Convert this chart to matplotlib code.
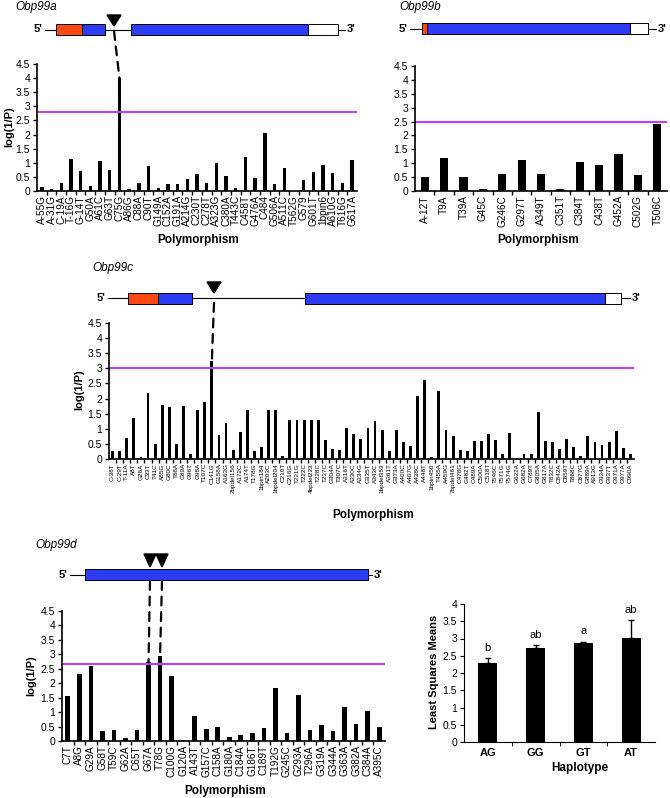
import matplotlib
matplotlib.use("Agg")
import matplotlib.pyplot as plt
from matplotlib.patches import Rectangle, Polygon, ConnectionPatch
import numpy as np

plt.rcParams['font.family'] = ['Liberation Sans', 'DejaVu Sans']

# ---- data ----
a_labels = ['A-55G', 'A-31G', 'C-19A', 'T-16G', 'G-14T', 'G50A', 'A61C', 'G63T', 'C75G',
            'A86G', 'C88A', 'C90T', 'G149A', 'C152A', 'G191A', 'A214G', 'C230T', 'C278T',
            'A323G', 'C380A', 'T443C', 'C458T', 'G476A', 'C484', 'G506A', 'A511C', 'T562G',
            'G579', 'G601T', '1bpin6', 'A610G', 'T616G', 'G617A']
a_vals = [0.13, 0.07, 0.3, 1.15, 0.7, 0.19, 1.07, 0.75, 4.0,
          0.06, 0.27, 0.9, 0.1, 0.25, 0.24, 0.43, 0.62, 0.3,
          1.0, 0.54, 0.1, 1.2, 0.45, 2.05, 0.25, 0.82, 0.0,
          0.4, 0.68, 0.92, 0.65, 0.3, 1.1]
a_thr = 2.8

b_labels = ['A-12T', 'T9A', 'T39A', 'G45C', 'G246C', 'G297T', 'A349T', 'C351T', 'C384T',
            'C438T', 'G452A', 'C502G', 'T506C']
b_vals = [0.5, 1.2, 0.5, 0.07, 0.62, 1.13, 0.63, 0.07, 1.05, 0.93, 1.35, 0.58, 2.42]
b_thr = 2.47

c_labels = ['C-38T', 'C-29T', 'T-11A', 'A8T', 'G26A', 'C33T', 'T41C', 'A85G', 'G80C', 'T88A',
            'G89A', 'G96T', 'G98A', 'T107C', 'C141G', 'G158A', 'A163G', '2bpdel156', 'A172C',
            'A174T', 'T178G', '1bpin184', 'A203C', '1bpdel204', 'C210T', 'C216G', 'T221G',
            'T222C', '4bpdel223', 'T228C', 'T237C', 'G304A', 'T307C', 'A316T', 'A330C', 'A334G',
            'G335T', 'A343C', '1bpdel353', 'A361T', 'G373A', 'A400C', 'A407G', 'A438C', 'A448T',
            '1bpin450', 'T455A', 'A459G', '7bpdel461', 'C478G', 'G482T', 'C489A', 'C500A',
            'C518T', 'T546C', 'T571G', 'T574G', 'G622A', 'G682A', 'C789T', 'G805A', 'G817A',
            'T832C', 'C842A', 'C859T', 'T868C', 'C877G', 'G889A', 'A913G', 'G934A', 'G937T',
            'G971A', 'G977A', 'C990A']
c_vals = [0.28, 0.28, 0.7, 1.37, 0.07, 2.2, 0.5, 1.8, 1.72, 0.5,
          1.76, 0.15, 1.63, 1.87, 3.25, 0.78, 1.2, 0.29, 0.9,
          1.62, 0.28, 0.41, 1.62, 1.62, 0.1, 1.3, 1.3,
          1.3, 1.3, 1.3, 0.62, 0.34, 0.3, 1.04, 0.83, 0.65,
          1.04, 1.26, 0.95, 0.28, 0.95, 0.57, 0.42, 2.07, 2.6,
          0.05, 2.25, 0.95, 0.77, 0.3, 0.28, 0.6, 0.6,
          0.84, 0.63, 0.15, 0.85, 0.04, 0.15, 0.15, 1.55, 0.6,
          0.55, 0.32, 0.65, 0.4, 0.1, 0.75, 0.57, 0.45, 0.55,
          0.93, 0.37, 0.18]
c_thr = 3.0

d_labels = ['C7T', 'A8G', 'G29A', 'G58T', 'T59C', 'G62A', 'C65T', 'G67A', 'T78G', 'C100G',
            'G120A', 'A143T', 'G157C', 'C158A', 'G180A', 'C184A', 'G186T', 'C189T', 'T192G',
            'G245C', 'G293A', 'T296A', 'G319A', 'G344A', 'G363A', 'G382A', 'C384A', 'A395C']
d_vals = [1.55, 2.33, 2.6, 0.35, 0.37, 0.1, 0.37, 2.73, 2.95, 2.25,
          0.02, 0.88, 0.42, 0.48, 0.15, 0.22, 0.28, 0.45, 1.85,
          0.28, 1.58, 0.38, 0.56, 0.35, 1.18, 0.6, 1.04, 0.5]
d_thr = 2.65

hap_labels = ['AG', 'GG', 'GT', 'AT']
hap_means = [2.28, 2.73, 2.88, 3.02]
hap_err = [0.15, 0.07, 0.03, 0.52]
hap_letters = ['b', 'ab', 'a', 'ab']

MAG = '#c63cf2'
BLUE = '#2b3cf2'
ORANGE = '#ff4814'

W, H = 670, 798
fig = plt.figure(figsize=(6.7, 7.98), dpi=100)


def box(l, t, r, b):
    return [l / W, 1 - b / H, (r - l) / W, (b - t) / H]


# overlay in pixel coordinates for gene diagrams and labels
ov = fig.add_axes([0, 0, 1, 1])
ov.set_xlim(0, W)
ov.set_ylim(H, 0)
ov.axis('off')


def bar_panel(rect, labels, vals, thr, lsize, width):
    ax = fig.add_axes(box(*rect))
    x = np.arange(len(vals))
    ax.bar(x, vals, width=width, color='black')
    ax.axhline(thr, color=MAG, lw=1.5)
    ax.set_xlim(-0.5, len(vals) - 0.5)
    ax.set_ylim(0, 4.5)
    yt = np.arange(0, 4.51, 0.5)
    ax.set_yticks(yt)
    ax.set_yticklabels([f'{v:g}' for v in yt], fontsize=7.5)
    ax.set_xticks(x)
    ax.set_xticklabels(labels, rotation=90, fontsize=lsize)
    ax.set_xticks(x[:-1] + 0.5, minor=True)
    ax.tick_params(axis='x', which='major', length=0, pad=3)
    ax.tick_params(axis='x', which='minor', length=3, width=1, direction='out')
    ax.tick_params(axis='y', length=3, width=1, pad=2)
    for s in ('top', 'right'):
        ax.spines[s].set_visible(False)
    for s in ('left', 'bottom'):
        ax.spines[s].set_linewidth(1.2)
    ax.patch.set_alpha(0)
    return ax


def gene(y, x0, x1, boxes, h=11):
    ov.plot([x0, x1], [y, y], color='black', lw=0.8, zorder=1)
    for l, r, c in boxes:
        ov.add_patch(Rectangle((l, y - h / 2), r - l, h, facecolor=c,
                               edgecolor='black', lw=0.7, zorder=2))
    ov.text(x0 - 3, y, "5'", ha='right', va='center', fontweight='bold', fontsize=8)
    ov.text(x1 + 2, y, "3'", ha='left', va='center', fontweight='bold', fontsize=8)


def arrow(x, top, tip, hw=7):
    ov.add_patch(Polygon([(x - hw, top), (x + hw, top), (x, tip)], closed=True,
                         color='black', zorder=3))


def connect(xy, ax, idx, val):
    con = ConnectionPatch(xyA=xy, coordsA=ov.transData, xyB=(idx, val), coordsB=ax.transData,
                          linestyle=(0, (4, 3)), lw=1.6, color='black')
    fig.add_artist(con)


# ---- Obp99a ----
axA = bar_panel((37, 64, 357, 191), a_labels, a_vals, a_thr, 7.2, 0.35)
ov.text(15, 7, 'Obp99a', style='italic', fontsize=8.5, va='center')
gene(29.5, 45, 345, [(56, 82, ORANGE), (82, 105, BLUE), (131, 308, BLUE), (308, 338, 'white')])
arrow(114, 15, 26)
connect((114, 31), axA, 8, a_vals[8])
ov.text(9, 127, 'log(1/P)', rotation=90, ha='center', va='center', fontweight='bold', fontsize=8)
ov.text(198, 240, 'Polymorphism', ha='center', va='center', fontweight='bold', fontsize=8.5)

# ---- Obp99b ----
axB = bar_panel((415, 66, 667, 191), b_labels, b_vals, b_thr, 7.2, 0.42)
ov.text(399, 7, 'Obp99b', style='italic', fontsize=8.5, va='center')
gene(28.5, 410, 656, [(422, 427, ORANGE), (427, 630, BLUE), (630, 648, 'white')])
ov.text(538, 240, 'Polymorphism', ha='center', va='center', fontweight='bold', fontsize=8.5)

# ---- Obp99c ----
axC = bar_panel((109, 323, 634, 459), c_labels, c_vals, c_thr, 4.6, 0.4)
ov.text(92, 268, 'Obp99c', style='italic', fontsize=8.5, va='center')
gene(298, 108, 630, [(128, 158, ORANGE), (158, 192, BLUE), (305, 605, BLUE), (605, 621, 'white')])
arrow(214, 282, 293)
connect((214, 303), axC, 14, c_vals[14])
ov.text(79, 390, 'log(1/P)', rotation=90, ha='center', va='center', fontweight='bold', fontsize=8)
ov.text(373, 515, 'Polymorphism', ha='center', va='center', fontweight='bold', fontsize=8.5)

# ---- Obp99d ----
axD = bar_panel((62, 611, 385, 741), d_labels, d_vals, d_thr, 7.2, 0.4)
ov.text(35, 545, 'Obp99d', style='italic', fontsize=8.5, va='center')
gene(574.5, 70, 372, [(85, 368, BLUE)])
arrow(150, 554, 567, hw=6)
arrow(162, 554, 567, hw=6)
connect((150, 581), axD, 7, d_vals[7])
connect((162, 581), axD, 8, d_vals[8])
ov.text(31, 676, 'log(1/P)', rotation=90, ha='center', va='center', fontweight='bold', fontsize=8)
ov.text(225, 791, 'Polymorphism', ha='center', va='center', fontweight='bold', fontsize=8.5)

# ---- Least squares means ----
axL = fig.add_axes(box(464, 604, 655, 742))
xl = np.arange(len(hap_labels))
axL.bar(xl, hap_means, width=0.4, color='black',
        yerr=[np.zeros(len(hap_err)), hap_err], capsize=2,
        error_kw=dict(ecolor='black', elinewidth=1, capthick=1))
for i, (m, e, t) in enumerate(zip(hap_means, hap_err, hap_letters)):
    axL.text(i, m + e + 0.15, t, ha='center', va='bottom', fontsize=8)
axL.set_xlim(-0.5, len(hap_labels) - 0.5)
axL.set_ylim(0, 4)
yt = np.arange(0, 4.01, 0.5)
axL.set_yticks(yt)
axL.set_yticklabels([f'{v:g}' for v in yt], fontsize=7.5)
axL.set_xticks(xl)
axL.set_xticklabels(hap_labels, fontweight='bold', fontsize=8)
axL.set_xticks(xl[:-1] + 0.5, minor=True)
axL.tick_params(axis='x', which='major', length=0, pad=4)
axL.tick_params(axis='x', which='minor', length=3, direction='out')
axL.tick_params(axis='y', length=3, pad=2)
for s in ('top', 'right'):
    axL.spines[s].set_visible(False)
axL.patch.set_alpha(0)
ov.text(434, 672, 'Least Squares Means', rotation=90, ha='center', va='center',
        fontweight='bold', fontsize=8)
ov.text(580, 768, 'Haplotype', ha='center', va='center', fontweight='bold', fontsize=8.5)

fig.savefig('out.png', dpi=100)
